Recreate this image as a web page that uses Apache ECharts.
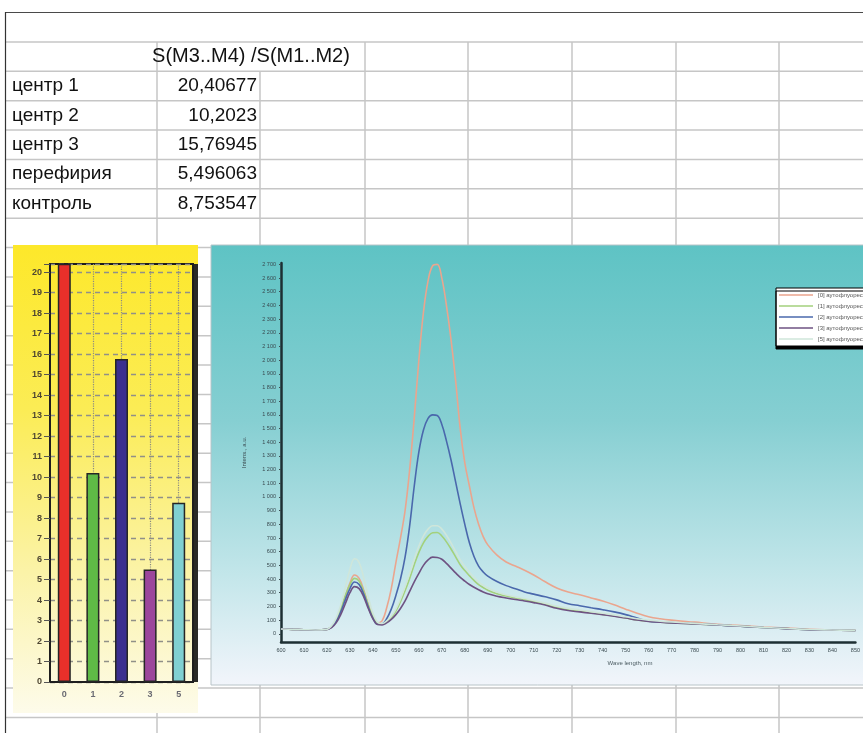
<!DOCTYPE html>
<html>
<head>
<meta charset="utf-8">
<style>
  html, body { margin: 0; padding: 0; background: #fff; }
  #chart { width: 863px; height: 733px; }
</style>
<script src="https://cdn.jsdelivr.net/npm/echarts@6.0.0/dist/echarts.min.js"></script>
</head>
<body>
<div id="chart"></div>
<script>
// table / bar chart data
var groups = ['центр 1', 'центр 2', 'центр 3', 'перефирия', 'контроль']
var ratios = [20.40677, 10.2023, 15.76945, 5.496063, 8.753547]
var barCats = ['0', '1', '2', '3', '5']
var ratioHeader = 'S(M3..M4) /S(M1..M2)'

// spectra
var waveLen = [600, 605, 610, 615, 620, 622, 624, 626, 628, 630, 632, 634, 636, 638, 640, 642, 644, 646, 648, 650,
  652, 654, 656, 658, 660, 662, 664, 666, 668, 670, 672, 674, 676, 678, 680, 682, 684, 686, 688, 690,
  694, 698, 702, 706, 710, 715, 720, 725, 730, 735, 740, 745, 750, 755, 760, 765, 770, 780, 790, 800,
  810, 820, 830, 840, 850]
var spec0 = [35, 32, 30, 28, 32, 50, 95, 170, 270, 370, 430, 405, 320, 215, 125, 80, 95, 190, 330, 520,
  700, 900, 1200, 1580, 2000, 2350, 2580, 2690, 2700, 2600, 2400, 2150, 1850, 1500, 1250, 1080, 920, 800, 710, 650,
  575, 525, 495, 465, 430, 380, 335, 305, 285, 262, 240, 212, 180, 150, 125, 110, 100, 85, 70, 60,
  50, 42, 32, 28, 25]
var spec1 = [35, 32, 30, 28, 32, 52, 100, 180, 280, 360, 405, 385, 310, 210, 125, 75, 70, 88, 118, 165,
  235, 315, 405, 505, 595, 665, 712, 738, 740, 715, 672, 620, 562, 505, 462, 425, 390, 360, 338, 318,
  292, 276, 262, 250, 236, 215, 192, 176, 165, 152, 142, 130, 116, 102, 92, 86, 80, 72, 64, 55,
  46, 38, 30, 27, 24]
var spec2 = [35, 32, 30, 28, 32, 48, 90, 160, 250, 330, 378, 360, 290, 195, 115, 70, 72, 110, 180, 280,
  400, 560, 790, 1080, 1330, 1490, 1575, 1600, 1595, 1530, 1410, 1270, 1110, 950, 800, 665, 565, 495, 452, 422,
  382, 352, 330, 306, 290, 270, 248, 220, 205, 190, 176, 160, 140, 115, 92, 86, 82, 75, 65, 55,
  46, 38, 30, 27, 24]
var spec3 = [35, 32, 30, 28, 32, 45, 80, 140, 220, 300, 345, 330, 270, 185, 110, 68, 65, 80, 105, 140,
  185, 240, 310, 380, 442, 500, 540, 560, 558, 545, 515, 480, 445, 412, 385, 360, 340, 322, 306, 292,
  275, 262, 250, 240, 228, 210, 186, 170, 160, 150, 140, 128, 115, 101, 91, 85, 80, 72, 64, 55,
  46, 38, 30, 27, 24]
var spec5 = [35, 32, 30, 28, 32, 58, 115, 210, 340, 470, 548, 520, 410, 270, 150, 85, 75, 95, 128, 180,
  255, 345, 440, 545, 640, 715, 765, 790, 790, 765, 720, 665, 602, 540, 492, 450, 412, 380, 355, 335,
  305, 285, 270, 258, 244, 224, 202, 186, 174, 162, 150, 138, 124, 110, 100, 92, 86, 76, 66, 57,
  47, 39, 31, 28, 25]
var specNames = ['[0] аутофлуоресценция', '[1] аутофлуоресценция', '[2] аутофлуоресценция', '[3] аутофлуоресценция', '[5] аутофлуоресценция']
var yTicks = [0, 100, 200, 300, 400, 500, 600, 700, 800, 900, 1000, 1100, 1200, 1300, 1400, 1500, 1600, 1700, 1800,
  1900, 2000, 2100, 2200, 2300, 2400, 2500, 2600, 2700]

var chart = echarts.init(document.getElementById('chart'))

var rowTop = 12.6
var rowH = 29.37
var colX = [157, 260, 365, 468, 572, 676, 779]
var font = '"Liberation Sans", Arial, sans-serif'

// spreadsheet grid behind the pictures
var graphics = []
for (var k = 1; k <= 24; k++) {
  graphics.push({
    type: 'line', z: -3, silent: true,
    shape: { x1: 5, y1: rowTop + rowH * k, x2: 863, y2: rowTop + rowH * k },
    style: { stroke: '#c6c6c6', lineWidth: 1.5 }
  })
}
colX.forEach(function(x) {
  graphics.push({
    type: 'line', z: -3, silent: true,
    shape: { x1: x, y1: x === 260 ? rowTop + rowH * 2 : rowTop + rowH, x2: x, y2: 733 },
    style: { stroke: '#c6c6c6', lineWidth: 1.5 }
  })
})
graphics.push({
  type: 'line', z: -3, silent: true,
  shape: { x1: 5, y1: 12.5, x2: 863, y2: 12.5 },
  style: { stroke: '#4a4a4a', lineWidth: 1.2 }
})
graphics.push({
  type: 'line', z: -3, silent: true,
  shape: { x1: 5.5, y1: 12, x2: 5.5, y2: 733 },
  style: { stroke: '#333', lineWidth: 1.2 }
})

// table text
graphics.push({
  type: 'text', z: -2, silent: true,
  style: {
    x: 251, y: rowTop + rowH * 1.5, text: ratioHeader, fill: '#111',
    font: '20px ' + font, textAlign: 'center', textVerticalAlign: 'middle'
  }
})
groups.forEach(function(name, i) {
  var y = rowTop + rowH * (i + 2.5)
  graphics.push({
    type: 'text', z: -2, silent: true,
    style: { x: 12, y: y, text: name, fill: '#111', font: '19px ' + font, textAlign: 'left', textVerticalAlign: 'middle' }
  })
  graphics.push({
    type: 'text', z: -2, silent: true,
    style: { x: 257, y: y, text: String(ratios[i]).replace('.', ','), fill: '#111', font: '19px ' + font, textAlign: 'right', textVerticalAlign: 'middle' }
  })
})

// picture panels
graphics.push({
  type: 'rect', z: -1, silent: true,
  shape: { x: 13, y: 245, width: 185, height: 468 },
  style: {
    fill: new echarts.graphic.LinearGradient(0, 0, 0, 1, [
      { offset: 0, color: '#fde82a' },
      { offset: 0.35, color: '#fbec55' },
      { offset: 0.7, color: '#fbf3a8' },
      { offset: 1, color: '#fdfbea' }
    ])
  }
})
graphics.push({
  type: 'rect', z: -1, silent: true,
  shape: { x: 193, y: 264, width: 5, height: 418 },
  style: { fill: '#2a2a26' }
})
graphics.push({
  type: 'rect', z: -1, silent: true,
  shape: { x: 211, y: 245, width: 660, height: 440 },
  style: {
    fill: new echarts.graphic.LinearGradient(0, 0, 0, 1, [
      { offset: 0, color: '#5ec3c4' },
      { offset: 0.4, color: '#86cfd2' },
      { offset: 0.75, color: '#c3e6ea' },
      { offset: 1, color: '#f2f5fb' }
    ]),
    stroke: '#b8c4c8', lineWidth: 1
  }
})
graphics.push({
  type: 'text', z: 5, silent: true,
  style: { x: 630, y: 663, text: 'Wave length, nm', fill: '#4a5a60', font: '6px ' + font, textAlign: 'center', textVerticalAlign: 'middle' }
})

var barColors = ['#e8302a', '#5fba46', '#3b2f8f', '#9c469c', '#80d0d2']
var lineColors = ['#eaa58e', '#a3d17c', '#4a68ac', '#6e5282', '#cfe6da']
var specs = [spec0, spec1, spec2, spec3, spec5]

var option = {
  backgroundColor: '#fff',
  animation: false,
  graphic: graphics,
  legend: {
    data: specNames,
    orient: 'vertical',
    left: 776,
    top: 288,
    icon: 'rect',
    itemWidth: 34,
    itemHeight: 1.5,
    itemGap: 3,
    padding: [3, 4, 3, 3],
    backgroundColor: '#fff',
    borderColor: '#000',
    borderWidth: 1,
    shadowColor: '#000',
    shadowOffsetY: 3,
    textStyle: { fontSize: 6, lineHeight: 8, color: '#555' }
  },
  grid: [
    { left: 50, top: 264, width: 143, height: 418, show: true, borderColor: '#1e1e1e', borderWidth: 2 },
    { left: 281, top: 263, width: 625, height: 379 }
  ],
  xAxis: [
    {
      gridIndex: 0,
      type: 'category',
      data: barCats,
      axisLine: { lineStyle: { color: '#1e1e1e', width: 2 } },
      axisTick: { show: false, alignWithLabel: true },
      axisLabel: { color: '#6a6a72', fontWeight: 'bold', fontSize: 9, margin: 8 },
      splitLine: { show: true, alignWithLabel: true, lineStyle: { color: '#8a8a82', type: 'dotted', width: 1.2 } }
    },
    {
      gridIndex: 1,
      type: 'value',
      min: 600,
      max: 850,
      interval: 10,
      axisLine: { onZero: false, lineStyle: { color: '#1d2f33', width: 2.5 } },
      axisTick: { show: false },
      axisLabel: { fontSize: 5.5, color: '#3a4a50', margin: 5 },
      splitLine: { show: false }
    }
  ],
  yAxis: [
    {
      gridIndex: 0,
      type: 'value',
      min: 0,
      max: 20.4,
      interval: 1,
      axisLine: { show: true, lineStyle: { color: '#1e1e1e', width: 2 } },
      axisTick: { show: true, length: 6, lineStyle: { color: '#555' } },
      axisLabel: {
        formatter: function(v) { return Number.isInteger(v) ? v : '' },
        fontSize: 9, fontWeight: 'bold', color: '#4e4632', margin: 8
      },
      splitLine: { lineStyle: { color: '#909088', type: [5, 4], width: 1.3 } }
    },
    {
      gridIndex: 1,
      type: 'value',
      min: -60,
      max: 2710,
      name: 'Intens., a.u.',
      nameLocation: 'middle',
      nameGap: 34,
      nameRotate: 90,
      nameTextStyle: { fontSize: 6, color: '#3a4a50' },
      axisLine: { show: true, lineStyle: { color: '#1d2f33', width: 2.5 } },
      axisTick: { show: true, length: 2, customValues: yTicks, lineStyle: { color: '#3a4a50' } },
      axisLabel: {
        customValues: yTicks,
        fontSize: 5.5, color: '#3a4a50', margin: 5,
        formatter: function(v) {
          return v >= 1000 ? Math.floor(v / 1000) + ' ' + String(v % 1000).padStart(3, '0') : String(v)
        }
      },
      splitLine: { show: false }
    }
  ],
  series: [
    {
      type: 'bar',
      xAxisIndex: 0,
      yAxisIndex: 0,
      barWidth: 13,
      data: ratios.map(function(v, i) {
        return { value: v, itemStyle: { color: barColors[i] } }
      }),
      itemStyle: { borderColor: '#262626', borderWidth: 1.5 }
    }
  ].concat(specs.map(function(s, i) {
    return {
      name: specNames[i],
      type: 'line',
      xAxisIndex: 1,
      yAxisIndex: 1,
      symbol: 'none',
      smooth: 0.4,
      color: lineColors[i],
      lineStyle: { color: lineColors[i], width: 1.6 },
      data: waveLen.map(function(w, j) { return [w, s[j]] })
    }
  }))
}
chart.setOption(option)
</script>
</body>
</html>
